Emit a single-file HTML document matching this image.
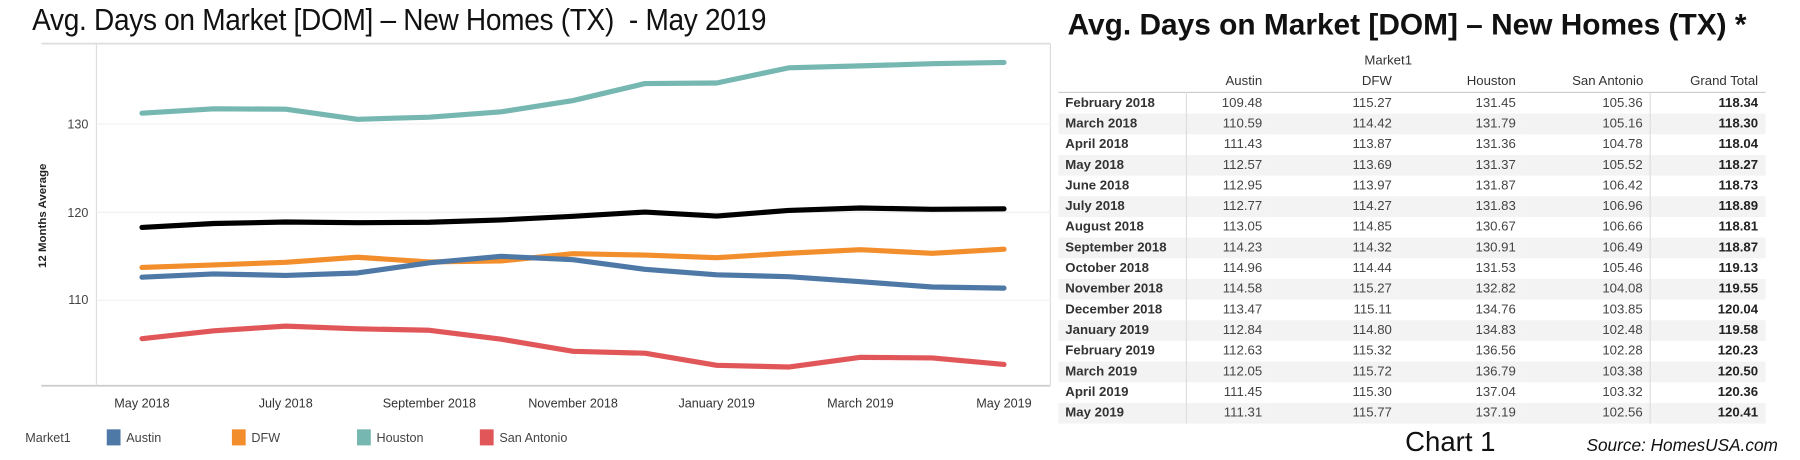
<!DOCTYPE html>
<html><head><meta charset="utf-8"><style>
html,body{margin:0;width:1800px;height:460px;background:#fff;overflow:hidden}
#w{position:absolute;left:0;top:0;width:1568px;height:401px;transform:scale(1.14796);transform-origin:0 0;font-family:"Liberation Sans",sans-serif}
.t1{position:absolute;left:28px;top:2px;font-size:27px;color:#111;letter-spacing:-0.3px;transform:scaleX(0.905);transform-origin:0 0;white-space:nowrap}
.t2{position:absolute;left:930px;top:6px;font-size:26px;font-weight:bold;color:#111;white-space:nowrap}
table{position:absolute;left:922px;top:44px;border-collapse:collapse;font-size:11.5px;color:#333}
td,th{height:18px;padding:0 6px;white-space:nowrap}
th{font-weight:normal;text-align:right;color:#333}
td{text-align:right;color:#444}
td:first-child{text-align:left;font-weight:bold;color:#333;width:99px;border-right:1px solid #ddd}
td:last-child{font-weight:bold;color:#222;border-left:1px solid #ddd}
tbody tr:nth-child(even){background:#f3f3f3}
tbody tr:first-child td{border-top:1px solid #ccc}
.c1{position:absolute;left:1224px;top:372px;font-size:24px;color:#111}
.src{position:absolute;left:1382px;top:380px;font-size:15px;font-style:italic;color:#111}
</style></head><body><div id="w">
<div class="t1">Avg. Days on Market [DOM] – New Homes (TX) &nbsp;- May 2019</div>
<div class="t2">Avg. Days on Market [DOM] – New Homes (TX) *</div>
<svg width="920" height="401" style="position:absolute;left:0;top:0" font-family="Liberation Sans, sans-serif">
<line x1="36" y1="38" x2="915" y2="38" stroke="#ddd" stroke-width="1.5"/>
<line x1="36" y1="336" x2="915" y2="336" stroke="#ccc" stroke-width="1.5"/>
<line x1="84" y1="38" x2="84" y2="336" stroke="#ddd"/>
<line x1="915" y1="38" x2="915" y2="336" stroke="#ddd"/>
<g stroke="#f0f0f0"><line x1="84" y1="108" x2="915" y2="108"/><line x1="84" y1="185" x2="915" y2="185"/><line x1="84" y1="261.5" x2="915" y2="261.5"/></g>
<g font-size="11" fill="#444" text-anchor="end"><text x="77" y="112">130</text><text x="77" y="189">120</text><text x="77" y="265">110</text></g>
<text transform="translate(40,188) rotate(-90)" font-size="10" font-weight="bold" text-anchor="middle" fill="#222">12 Months Average</text>
<g font-size="11" fill="#333" text-anchor="middle"><text x="123.7" y="355">May 2018</text><text x="248.9" y="355">July 2018</text><text x="374" y="355">September 2018</text><text x="499.2" y="355">November 2018</text><text x="624.3" y="355">January 2019</text><text x="749.5" y="355">March 2019</text><text x="874.6" y="355">May 2019</text></g>
<g fill="none" stroke-width="4.5" stroke-linejoin="round" stroke-linecap="round">
<polyline stroke="#76b7b2" points="123.7,98.6 186.3,94.8 248.9,95.1 311.4,103.9 374,102.1 436.6,97.4 499.2,87.6 561.8,72.8 624.3,72.3 686.9,59.1 749.5,57.4 812.1,55.5 874.6,54.4"/>
<polyline stroke="#000" points="123.7,198.1 186.3,194.7 248.9,193.4 311.4,194 374,193.6 436.6,191.6 499.2,188.4 561.8,184.7 624.3,188.2 686.9,183.3 749.5,181.2 812.1,182.3 874.6,181.9"/>
<polyline stroke="#f28e2b" points="123.7,233 186.3,230.8 248.9,228.5 311.4,224.1 374,228.2 436.6,227.3 499.2,221 561.8,222.2 624.3,224.5 686.9,220.6 749.5,217.5 812.1,220.7 874.6,217.1"/>
<polyline stroke="#4e79a7" points="123.7,241.5 186.3,238.6 248.9,239.9 311.4,237.8 374,228.9 436.6,223.3 499.2,226.2 561.8,234.6 624.3,239.4 686.9,241 749.5,245.4 812.1,250 874.6,251"/>
<polyline stroke="#e15759" points="123.7,295 186.3,288.2 248.9,284.1 311.4,286.4 374,287.7 436.6,295.5 499.2,306 561.8,307.7 624.3,318.2 686.9,319.7 749.5,311.3 812.1,311.8 874.6,317.5"/>
</g>
<g font-size="11" fill="#444"><text x="22" y="385">Market1</text>
<rect x="93" y="374" width="12" height="14" fill="#4e79a7"/><text x="110" y="385">Austin</text>
<rect x="202" y="374" width="12" height="14" fill="#f28e2b"/><text x="219" y="385">DFW</text>
<rect x="311" y="374" width="12" height="14" fill="#76b7b2"/><text x="328" y="385">Houston</text>
<rect x="418" y="374" width="12" height="14" fill="#e15759"/><text x="435" y="385">San Antonio</text></g>
</svg>
<table>
<thead><tr><th></th><th></th><th></th><th style="text-align:left;padding-left:0;position:relative;left:-30px">Market1</th><th></th><th></th></tr>
<tr style="border-bottom:1px solid #ccc"><th style="width:99px"></th><th style="width:60px">Austin</th><th style="width:101px">DFW</th><th style="width:96px">Houston</th><th style="width:99px">San Antonio</th><th style="width:88px">Grand Total</th></tr></thead>
<tbody>
<tr><td>February 2018</td><td>109.48</td><td>115.27</td><td>131.45</td><td>105.36</td><td>118.34</td></tr>
<tr><td>March 2018</td><td>110.59</td><td>114.42</td><td>131.79</td><td>105.16</td><td>118.30</td></tr>
<tr><td>April 2018</td><td>111.43</td><td>113.87</td><td>131.36</td><td>104.78</td><td>118.04</td></tr>
<tr><td>May 2018</td><td>112.57</td><td>113.69</td><td>131.37</td><td>105.52</td><td>118.27</td></tr>
<tr><td>June 2018</td><td>112.95</td><td>113.97</td><td>131.87</td><td>106.42</td><td>118.73</td></tr>
<tr><td>July 2018</td><td>112.77</td><td>114.27</td><td>131.83</td><td>106.96</td><td>118.89</td></tr>
<tr><td>August 2018</td><td>113.05</td><td>114.85</td><td>130.67</td><td>106.66</td><td>118.81</td></tr>
<tr><td>September 2018</td><td>114.23</td><td>114.32</td><td>130.91</td><td>106.49</td><td>118.87</td></tr>
<tr><td>October 2018</td><td>114.96</td><td>114.44</td><td>131.53</td><td>105.46</td><td>119.13</td></tr>
<tr><td>November 2018</td><td>114.58</td><td>115.27</td><td>132.82</td><td>104.08</td><td>119.55</td></tr>
<tr><td>December 2018</td><td>113.47</td><td>115.11</td><td>134.76</td><td>103.85</td><td>120.04</td></tr>
<tr><td>January 2019</td><td>112.84</td><td>114.80</td><td>134.83</td><td>102.48</td><td>119.58</td></tr>
<tr><td>February 2019</td><td>112.63</td><td>115.32</td><td>136.56</td><td>102.28</td><td>120.23</td></tr>
<tr><td>March 2019</td><td>112.05</td><td>115.72</td><td>136.79</td><td>103.38</td><td>120.50</td></tr>
<tr><td>April 2019</td><td>111.45</td><td>115.30</td><td>137.04</td><td>103.32</td><td>120.36</td></tr>
<tr><td>May 2019</td><td>111.31</td><td>115.77</td><td>137.19</td><td>102.56</td><td>120.41</td></tr>
</tbody></table>
<div class="c1">Chart 1</div>
<div class="src">Source: HomesUSA.com</div>
</div></body></html>
